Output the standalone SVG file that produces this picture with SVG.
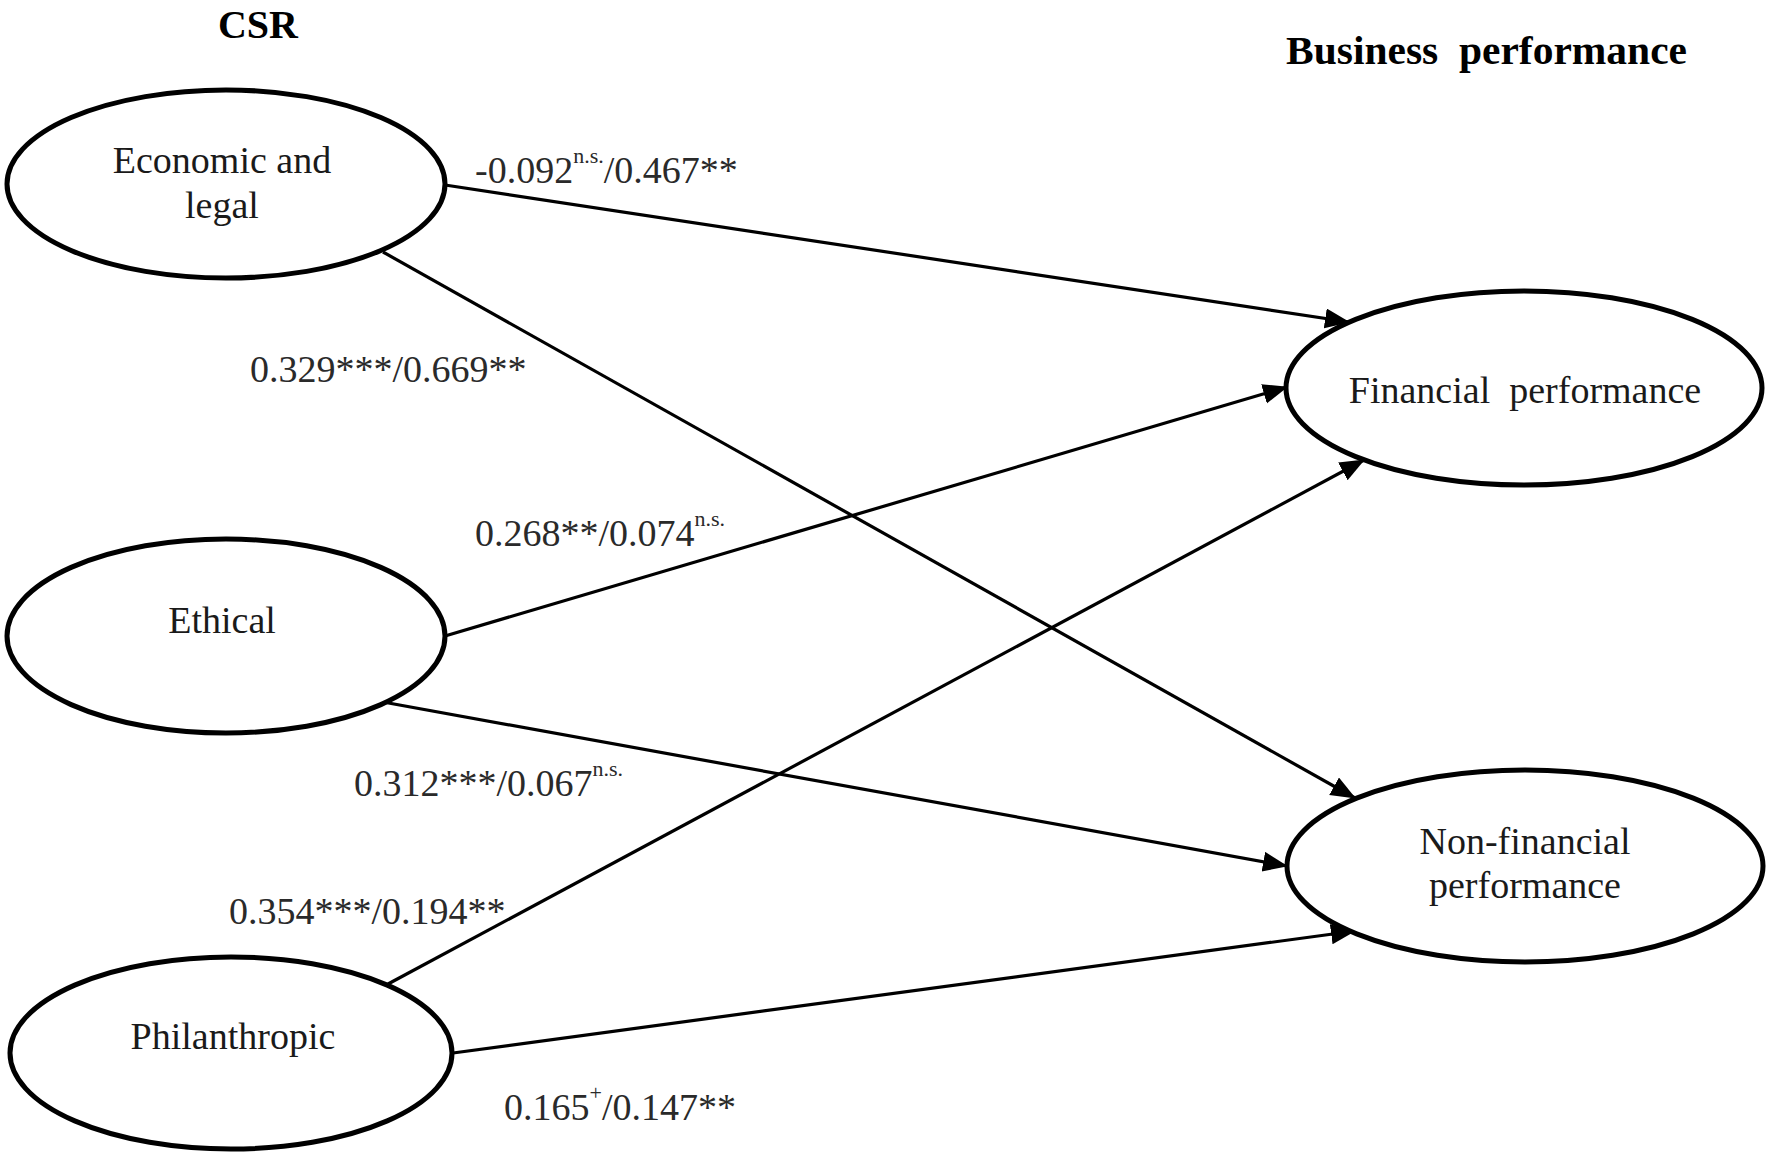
<svg xmlns="http://www.w3.org/2000/svg" width="1772" height="1161" viewBox="0 0 1772 1161">
<style>
  .node ellipse { fill: #ffffff; stroke: #000000; stroke-width: 5; }
  .ntxt { font-family: "Liberation Serif", "Times New Roman", serif; font-size: 38px; fill: #1a1a1a; text-anchor: middle; }
  .head { font-family: "Liberation Serif", "Times New Roman", serif; font-size: 40px; font-weight: bold; fill: #000000; }
  .lbl { font-family: "Liberation Serif", "Times New Roman", serif; font-size: 38px; fill: #2a2a2a; }
  .sup { font-size: 22px; }
  .conn line { stroke: #000000; stroke-width: 3.2; marker-end: url(#arrow); }
</style>
<defs>
  <marker id="arrow" markerUnits="userSpaceOnUse" markerWidth="26" markerHeight="22" refX="24" refY="10" orient="auto">
    <path d="M0,0 L25,10 L0,20 Z" fill="#000000"/>
  </marker>
</defs>
<rect x="0" y="0" width="1772" height="1161" fill="#ffffff"/>

<text class="head" x="258" y="38" text-anchor="middle">CSR</text>
<text class="head" x="1286" y="64" xml:space="preserve" textLength="401" lengthAdjust="spacingAndGlyphs">Business  performance</text>

<g id="connectors" class="conn">
  <line x1="445" y1="185" x2="1349" y2="322"/>
  <line x1="383" y1="252" x2="1355" y2="798"/>
  <line x1="445" y1="636" x2="1287" y2="387"/>
  <line x1="383" y1="702" x2="1287" y2="866"/>
  <line x1="388" y1="984" x2="1364" y2="460"/>
  <line x1="453" y1="1053" x2="1355" y2="931"/>
</g>

<g id="node-economic" class="node">
  <ellipse cx="226" cy="184" rx="219" ry="94"/>
  <text class="ntxt" x="222" y="173">Economic and</text>
  <text class="ntxt" x="222" y="218">legal</text>
</g>
<g id="node-ethical" class="node">
  <ellipse cx="226" cy="636" rx="219" ry="97"/>
  <text class="ntxt" x="222" y="633">Ethical</text>
</g>
<g id="node-philanthropic" class="node">
  <ellipse cx="231" cy="1053" rx="221" ry="96"/>
  <text class="ntxt" x="233" y="1049">Philanthropic</text>
</g>
<g id="node-financial" class="node">
  <ellipse cx="1524" cy="388" rx="238" ry="97"/>
  <text class="ntxt" x="1525" y="403" xml:space="preserve">Financial  performance</text>
</g>
<g id="node-nonfinancial" class="node">
  <ellipse cx="1525" cy="866" rx="238" ry="96"/>
  <text class="ntxt" x="1525" y="854">Non-financial</text>
  <text class="ntxt" x="1525" y="898">performance</text>
</g>

<g id="labels">
  <text class="lbl" x="475" y="183">-0.092<tspan class="sup" dy="-20">n.s.</tspan><tspan dy="20">/0.467**</tspan></text>
  <text class="lbl" x="250" y="382">0.329***/0.669**</text>
  <text class="lbl" x="475" y="546">0.268**/0.074<tspan class="sup" dy="-20">n.s.</tspan></text>
  <text class="lbl" x="354" y="796">0.312***/0.067<tspan class="sup" dy="-20">n.s.</tspan></text>
  <text class="lbl" x="229" y="924">0.354***/0.194**</text>
  <text class="lbl" x="504" y="1120">0.165<tspan class="sup" dy="-20">+</tspan><tspan dy="20">/0.147**</tspan></text>
</g>
</svg>
